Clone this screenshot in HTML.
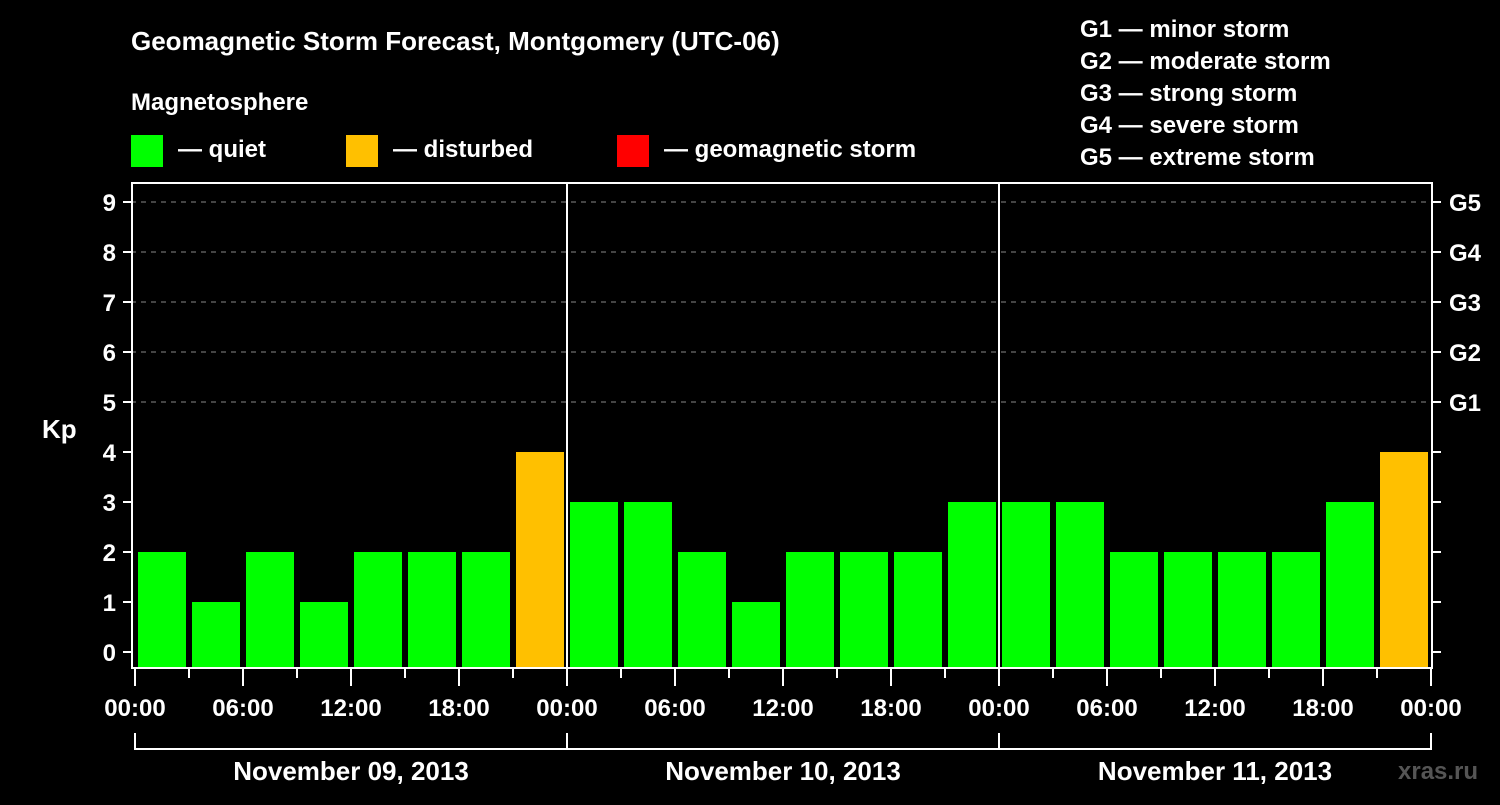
<!DOCTYPE html>
<html><head><meta charset="utf-8"><style>
body{margin:0;background:#000;width:1500px;height:800px;overflow:hidden}
svg text{font-family:"Liberation Sans",sans-serif;font-weight:bold;fill:#fff}
</style></head><body>
<svg id="c" width="1500" height="800" viewBox="0 0 1500 800">
<rect width="1500" height="800" fill="#000"/>
<text x="131" y="50" font-size="26">Geomagnetic Storm Forecast, Montgomery (UTC-06)</text>
<text x="131" y="110" font-size="24">Magnetosphere</text>
<g><rect x="131" y="135" width="32" height="32" fill="#00ff00"/><text x="178" y="157" font-size="24">— quiet</text></g>
<g><rect x="346" y="135" width="32" height="32" fill="#ffc000"/><text x="393" y="157" font-size="24">— disturbed</text></g>
<g><rect x="617" y="135" width="32" height="32" fill="#ff0000"/><text x="664" y="157" font-size="24">— geomagnetic storm</text></g>
<g font-size="24">
<text x="1080" y="37">G1 — minor storm</text>
<text x="1080" y="69">G2 — moderate storm</text>
<text x="1080" y="101">G3 — strong storm</text>
<text x="1080" y="133">G4 — severe storm</text>
<text x="1080" y="165">G5 — extreme storm</text>
</g>
<text x="42" y="438" font-size="26">Kp</text>
<g id="plot"></g>
<text x="1398" y="779" font-size="24" fill="#444" style="fill:#555">xras.ru</text>
</svg>
<script>
const days = ["November 09, 2013","November 10, 2013","November 11, 2013"];
const kpValues = [2,1,2,1,2,2,2,4, 3,3,2,1,2,2,2,3, 3,3,2,2,2,2,3,4];
const yTicks = [0,1,2,3,4,5,6,7,8,9];
const gLabels = ["G1","G2","G3","G4","G5"];
const hourLabels = ["00:00","06:00","12:00","18:00"];

const NS="http://www.w3.org/2000/svg";
const plot=document.getElementById('plot');
const x0=135, dayW=432, slotW=dayW/8;
const yS=v=>652-50*v;
const xS=i=>x0+i*slotW;
function mk(t,a,p){const e=document.createElementNS(NS,t);for(const k in a)e.setAttribute(k,a[k]);(p||plot).appendChild(e);return e;}
function col(v){return v>=5?"#ff0000":v>=4?"#ffc000":"#00ff00";}

// grid
yTicks.forEach(v=>{
 if(v>=5){const g=mk('line',{x1:131,x2:1432,y1:yS(v),y2:yS(v),stroke:'#888','stroke-width':1,'stroke-dasharray':'5,5'});
 
 }
 const t=mk('line',{x1:123,x2:131,y1:yS(v),y2:yS(v),stroke:'#fff','stroke-width':2});
 
 
 const l=mk('text',{x:116,y:yS(v)+9,'font-size':24,'text-anchor':'end'});l.textContent=v;
 
 
 const r=mk('line',{x1:1432,x2:1441,y1:yS(v),y2:yS(v),stroke:'#fff','stroke-width':2});
 
 
});
gLabels.forEach((g,i)=>{
 const t=mk('text',{x:1449,y:yS(5+i)+9,'font-size':24});t.textContent=g;
 
 
});
// bars
kpValues.forEach((v,i)=>{
 const b=mk('rect',{x:xS(i)+3,y:yS(v),width:slotW-6,height:667-yS(v),fill:col(v)});
 
 
});
// frame
const f=mk('rect',{x:132,y:183,width:1300,height:485,fill:'none',stroke:'#fff','stroke-width':2});


days.forEach((d,k)=>{
 if(k>0){const s=mk('line',{x1:x0+k*dayW,x2:x0+k*dayW,y1:183,y2:668,stroke:'#fff','stroke-width':2});
 
 }
 const br=mk('path',{d:`M${x0+k*dayW} 733V749H${x0+(k+1)*dayW}V733`,fill:'none',stroke:'#fff','stroke-width':2});
 
 
 const t=mk('text',{x:x0+k*dayW+dayW/2,y:780,'font-size':26,'text-anchor':'middle'});t.textContent=d;
 
 
});
for(let i=0;i<=kpValues.length;i++){
 const major=i%2===0;
 const t=mk('line',{x1:xS(i),x2:xS(i),y1:669,y2:major?686:678,stroke:'#fff','stroke-width':2});
 
 
 if(major){const l=mk('text',{x:xS(i),y:716,'font-size':24,'text-anchor':'middle'});l.textContent=hourLabels[(i/2)%4];
 
 }
}
</script>
</body></html>
